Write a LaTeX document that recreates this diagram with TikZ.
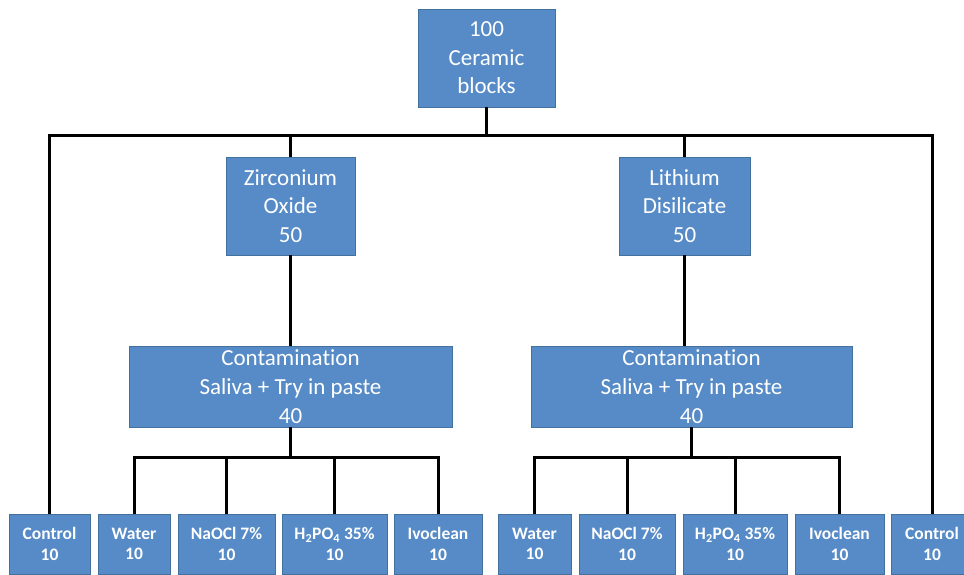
\documentclass[tikz,border=0pt]{standalone}
\usepackage{fontspec}
\setmainfont{Carlito}[Ligatures=NoCommon]
\definecolor{boxfill}{RGB}{86,139,199}
\definecolor{boxline}{RGB}{65,113,156}

\begin{document}
\begin{tikzpicture}[x=1pt,y=-1pt,
  box/.style={draw=boxline, fill=boxfill, text=white, align=center, inner sep=0pt,
    font=\fontsize{23}{28.5}\selectfont},
  leaf/.style={box, minimum height=60, font=\fontsize{17.5}{20.5}\selectfont\bfseries},
  link/.style={draw=black, line width=3pt}]
\clip (0,0) rectangle (964,574);

\node[box, minimum width=137, minimum height=98] (top) at (486.5,58) {100\\Ceramic\\blocks};
\node[box, minimum width=129, minimum height=98] (zr) at (290.5,206) {Zirconium\\Oxide\\50};
\node[box, minimum width=131, minimum height=98] (li) at (684.5,206) {Lithium\\Disilicate\\50};
\node[box, minimum width=323, minimum height=81, font=\fontsize{23}{29}\selectfont] (contL) at (290.5,386.5) {Contamination\\Saliva + Try in paste\\40};
\node[box, minimum width=321, minimum height=81, font=\fontsize{23}{29}\selectfont] (contR) at (691.5,386.5) {Contamination\\Saliva + Try in paste\\40};

\node[leaf, minimum width=81] (ctlL) at (49.5,544) {Control\\10};
\node[leaf, minimum width=72] (wL) at (134,544) {Water\\10};
\node[leaf, minimum width=97] (nL) at (226.5,544) {NaOCl 7\%\\10};
\node[leaf, minimum width=105] (hL) at (334.5,544) {H\textsubscript{2}PO\textsubscript{4} 35\%\\10};
\node[leaf, minimum width=88] (iL) at (438,544) {Ivoclean\\10};
\node[leaf, minimum width=73] (wR) at (534.5,544) {Water\\10};
\node[leaf, minimum width=96] (nR) at (627,544) {NaOCl 7\%\\10};
\node[leaf, minimum width=104] (hR) at (735,544) {H\textsubscript{2}PO\textsubscript{4} 35\%\\10};
\node[leaf, minimum width=89] (iR) at (839.5,544) {Ivoclean\\10};
\node[leaf, minimum width=82] (ctlR) at (932,544) {Control\\10};

\coordinate (jtop) at (486.5,135);
\coordinate (jL) at (290.5,457);
\coordinate (jR) at (691.5,457);

\path[link] (top) -- (jtop);
\path[link] (ctlL) |- (jtop) -| (ctlR);
\path[link] (jtop -| zr) -- (zr);
\path[link] (jtop -| li) -- (li);
\path[link] (zr) -- (contL);
\path[link] (li) -- (li |- contR.north);

\path[link] (contL) -- (jL);
\path[link] (wL) |- (jL) -| (iL);
\path[link] (jL -| nL) -- (nL);
\path[link] (jL -| hL) -- (hL);

\path[link] (contR) -- (jR);
\path[link] (wR) |- (jR) -| (iR);
\path[link] (jR -| nR) -- (nR);
\path[link] (jR -| hR) -- (hR);
\end{tikzpicture}
\end{document}
